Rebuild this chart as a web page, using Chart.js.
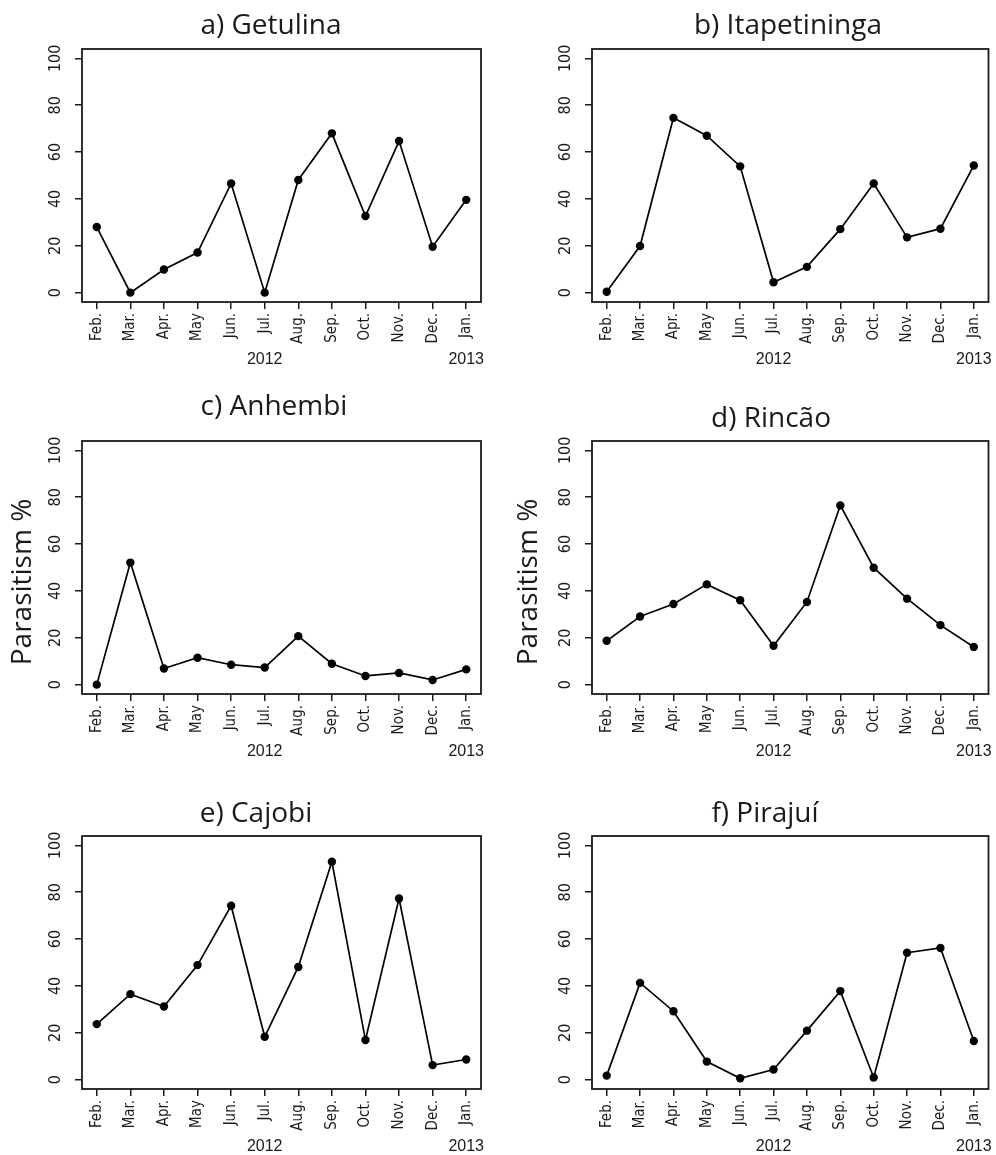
<!DOCTYPE html>
<html>
<head>
<meta charset="utf-8">
<title>Parasitism % by month</title>
<script src="https://cdn.jsdelivr.net/npm/chart.js@4.4.1/dist/chart.umd.min.js"></script>
<style>
  body { margin: 0; background: #fff; }
  #wrap { position: relative; width: 996px; height: 1155px; overflow: hidden; }
  #wrap canvas { position: absolute; }
</style>
</head>
<body>
<div id="wrap"></div>
<script>
// data
const months = ['Feb.', 'Mar.', 'Apr.', 'May', 'Jun.', 'Jul.', 'Aug.', 'Sep.', 'Oct.', 'Nov.', 'Dec.', 'Jan.'];
const yearLabels = ['2012', '2013'];
const yearAt = [5, 11]; // under Jul. and Jan.
const yTicks = [0, 20, 40, 60, 80, 100];

const getulina     = [28.0, 0.0, 9.9, 17.1, 46.6, 0.0, 48.1, 68.0, 32.7, 64.7, 19.6, 39.6];
const itapetininga = [0.4, 19.9, 74.6, 67.0, 53.9, 4.4, 11.0, 27.1, 46.6, 23.6, 27.3, 54.3];
const anhembi      = [0.0, 52.1, 6.9, 11.5, 8.5, 7.3, 20.7, 8.9, 3.7, 5.0, 2.0, 6.5];
const rincao       = [18.7, 29.1, 34.4, 42.8, 36.0, 16.6, 35.3, 76.5, 49.9, 36.7, 25.4, 16.1];
const cajobi       = [23.7, 36.5, 31.2, 48.9, 74.2, 18.3, 48.1, 93.0, 16.9, 77.3, 6.2, 8.6];
const pirajui      = [1.7, 41.3, 29.2, 7.7, 0.6, 4.3, 20.9, 37.8, 0.9, 54.2, 56.2, 16.5];

const titles = ['a) Getulina', 'b) Itapetininga', 'c) Anhembi', 'd) Rincão', 'e) Cajobi', 'f) Pirajuí'];
const yTitle = 'Parasitism %';

// where each panel sits on the page
const panels = [
  { data: getulina,     left: 0,   top: 0,   width: 498, height: 385, titleX: 271, titleY: 34 },
  { data: itapetininga, left: 510, top: 0,   width: 486, height: 385, titleX: 278, titleY: 34 },
  { data: anhembi,      left: 0,   top: 392, width: 498, height: 390, titleX: 274, titleY: 23, yTitleX: 23, yTitleY: 190 },
  { data: rincao,       left: 510, top: 392, width: 486, height: 390, titleX: 261, titleY: 35, yTitleX: 19, yTitleY: 190 },
  { data: cajobi,       left: 0,   top: 787, width: 498, height: 368, titleX: 256, titleY: 35 },
  { data: pirajui,      left: 510, top: 787, width: 486, height: 368, titleX: 255, titleY: 35 }
];

const ink = '#1a1a1a';
const tickFont = '"Liberation Sans Narrow", "DejaVu Sans Condensed", Lato, sans-serif';

const decoPlugin = {
  id: 'deco',
  afterDraw(chart, args, opts) {
    const ctx = chart.ctx;
    const a = chart.chartArea;
    ctx.save();
    ctx.strokeStyle = ink;
    ctx.lineWidth = 1.8;
    ctx.strokeRect(a.left, a.top, a.right - a.left, a.bottom - a.top);

    ctx.fillStyle = ink;
    ctx.font = '28px "Open Sans"';
    ctx.textAlign = 'center';
    ctx.textBaseline = 'alphabetic';
    ctx.fillText(opts.title, opts.titleX, opts.titleY);

    const xs = chart.scales.x;
    ctx.font = '16px "Liberation Sans", Arial, sans-serif';
    ctx.textBaseline = 'middle';
    yearLabels.forEach((t, i) => {
      ctx.fillText(t, xs.getPixelForValue(yearAt[i]), a.bottom + 58);
    });

    if (opts.yTitleX !== undefined) {
      ctx.translate(opts.yTitleX, opts.yTitleY);
      ctx.rotate(-Math.PI / 2);
      ctx.font = '28px "Open Sans"';
      ctx.fillText(yTitle, 0, 0);
    }
    ctx.restore();
  }
};

const wrap = document.getElementById('wrap');

panels.forEach((p, k) => {
  const cv = document.createElement('canvas');
  cv.style.left = p.left + 'px';
  cv.style.top = p.top + 'px';
  cv.style.width = p.width + 'px';
  cv.style.height = p.height + 'px';
  cv.width = p.width;
  cv.height = p.height;
  wrap.appendChild(cv);

  new Chart(cv, {
    type: 'line',
    data: {
      datasets: [{
        data: p.data.map((v, i) => ({ x: i, y: v })),
        borderColor: '#000',
        borderWidth: 1.7,
        pointRadius: 4.2,
        pointHoverRadius: 4.2,
        pointBackgroundColor: '#000',
        pointBorderWidth: 0,
        tension: 0,
        clip: false
      }]
    },
    options: {
      responsive: false,
      animation: false,
      events: [],
      layout: { padding: { top: 49, right: p.width - 481, bottom: p.height - 302 - 60, left: 0 } },
      plugins: {
        legend: { display: false },
        tooltip: { enabled: false },
        deco: { title: titles[k], titleX: p.titleX, titleY: p.titleY, yTitleX: p.yTitleX, yTitleY: p.yTitleY }
      },
      scales: {
        x: {
          type: 'linear',
          min: -0.44,
          max: 11.44,
          afterBuildTicks: s => { s.ticks = months.map((m, i) => ({ value: i })); },
          afterFit: s => { s.height = 60; },
          border: { display: false },
          grid: { drawOnChartArea: false, drawTicks: true, tickLength: 7, color: ink, lineWidth: 1.5 },
          ticks: {
            autoSkip: false,
            minRotation: 90,
            maxRotation: 90,
            padding: 4,
            color: ink,
            font: { family: tickFont, size: 15 },
            callback: v => months[v]
          }
        },
        y: {
          min: -4,
          max: 104,
          afterBuildTicks: s => { s.ticks = yTicks.map(v => ({ value: v })); },
          afterFit: s => { s.width = 82; },
          border: { display: false },
          grid: { drawOnChartArea: false, drawTicks: true, tickLength: 7, color: ink, lineWidth: 1.5 },
          ticks: {
            minRotation: 90,
            maxRotation: 90,
            crossAlign: 'center',
            padding: 5,
            color: ink,
            font: { family: tickFont, size: 16 }
          }
        }
      }
    },
    plugins: [decoPlugin]
  });
});
</script>
</body>
</html>
